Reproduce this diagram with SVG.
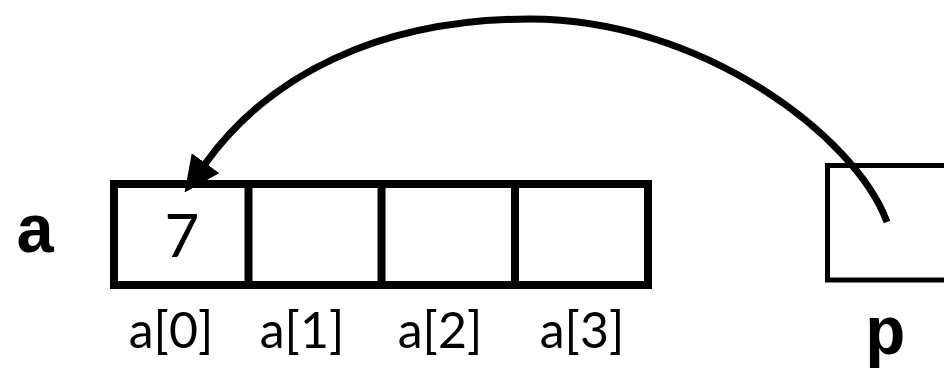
<svg xmlns="http://www.w3.org/2000/svg" width="944" height="372" viewBox="0 0 944 372">
<style>
.cell{fill:none;stroke:#000;stroke-width:8;stroke-linecap:square}
.var{font-family:"Liberation Mono",monospace;font-weight:bold;font-size:68px;fill:#000}
.lbl{font-family:Lato,"Open Sans",sans-serif;font-size:50px;fill:#000;text-anchor:middle}
.val{font-family:Lato,"Open Sans",sans-serif;font-size:60px;fill:#000;text-anchor:middle}
</style>
<defs>
<marker id="ah" markerUnits="userSpaceOnUse" viewBox="0 0 36 34" refX="1" refY="17" markerWidth="36" markerHeight="34" orient="auto">
<path d="M0,0 L36,17 L0,34 Z" fill="#000"/>
</marker>
</defs>
<g id="array_a">
<rect class="cell" x="114" y="184" width="534" height="101"/>
<line class="cell" x1="248.5" y1="184" x2="248.5" y2="285"/>
<line class="cell" x1="381.5" y1="184" x2="381.5" y2="285"/>
<line class="cell" x1="515" y1="184" x2="515" y2="285"/>
<text class="var" x="15" y="252">a</text>
<text class="val" x="182" y="257">7</text>
<text class="lbl" x="171" y="348">a[0]</text>
<text class="lbl" x="302" y="348">a[1]</text>
<text class="lbl" x="440" y="348">a[2]</text>
<text class="lbl" x="582" y="348">a[3]</text>
</g>
<g id="pointer_p">
<rect x="827.5" y="165.5" width="140" height="114.5" fill="none" stroke="#000" stroke-width="5"/>
<text class="var" x="865" y="354">p</text>
</g>
<g id="connectors">
<path d="M 887 222 C 855 135, 700 19, 530 19 C 380 19, 269 75, 205 164" fill="none" stroke="#000" stroke-width="7" marker-end="url(#ah)"/>
</g>
</svg>
